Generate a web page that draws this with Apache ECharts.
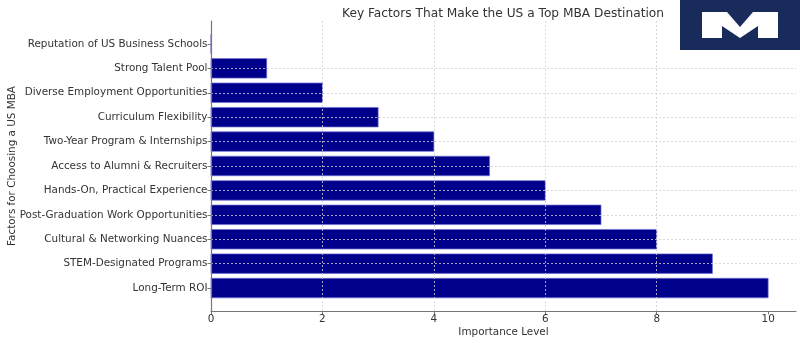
<!DOCTYPE html>
<html>
<head>
<meta charset="utf-8">
<script src="https://cdn.jsdelivr.net/npm/echarts@6/dist/echarts.min.js"></script>
<style>
  html, body { margin: 0; padding: 0; background: #fff; }
  #chart { width: 800px; height: 343px; }
</style>
</head>
<body>
<div id="chart"></div>
<script>
// Factors listed top to bottom, with their importance level
const categories = [
  'Reputation of US Business Schools',
  'Strong Talent Pool',
  'Diverse Employment Opportunities',
  'Curriculum Flexibility',
  'Two-Year Program & Internships',
  'Access to Alumni & Recruiters',
  'Hands-On, Practical Experience',
  'Post-Graduation Work Opportunities',
  'Cultural & Networking Nuances',
  'STEM-Designated Programs',
  'Long-Term ROI'
];
const importance = [0, 1, 2, 3, 4, 5, 6, 7, 8, 9, 10];
const xTicks = [0, 2, 4, 6, 8, 10];
const yTicks = categories.map((_, i) => i);

const FONT = 'DejaVu Sans';
const LABEL_SIZE = 10.4;
const BAR_HEIGHT = 0.8; // in category units

const chart = echarts.init(document.getElementById('chart'), null, { renderer: 'canvas' });

const barData = importance.map((v, i) => [v, i]);

chart.setOption({
  animation: false,
  backgroundColor: '#ffffff',
  title: {
    text: 'Key Factors That Make the US a Top MBA Destination',
    left: 498,
    top: 3,
    textAlign: 'center',
    textStyle: { fontFamily: FONT, fontSize: 12.2, fontWeight: 'normal', color: '#333' }
  },
  grid: { left: 211, right: 4, top: 21, bottom: 32, containLabel: false, outerBoundsMode: 'none' },
  xAxis: {
    type: 'value',
    min: 0,
    max: 10.5,
    z: 3,
    name: 'Importance Level',
    nameLocation: 'middle',
    nameGap: 16,
    nameMoveOverlap: false,
    nameTextStyle: { fontFamily: FONT, fontSize: LABEL_SIZE, color: '#333', verticalAlign: 'top' },
    axisLine: { show: true, onZero: false, lineStyle: { color: '#777', width: 1.2 } },
    axisTick: { show: true, length: 3.5, customValues: xTicks, lineStyle: { color: '#777' } },
    axisLabel: { customValues: xTicks, margin: 3, fontFamily: FONT, fontSize: LABEL_SIZE, color: '#333' },
    splitLine: {
      show: true, showMinLine: false, showMaxLine: false,
      lineStyle: { color: '#d0d0d0', type: [2, 2], width: 0.8 }
    }
  },
  yAxis: {
    type: 'value',
    inverse: true,
    min: -0.94,
    max: 10.94,
    z: 3,
    name: 'Factors for Choosing a US MBA',
    nameLocation: 'middle',
    nameGap: 194,
    nameMoveOverlap: false,
    nameRotate: 90,
    nameTextStyle: { fontFamily: FONT, fontSize: LABEL_SIZE, color: '#333' },
    axisLine: { show: true, onZero: false, lineStyle: { color: '#777', width: 1.2 } },
    axisTick: { show: true, length: 3.5, customValues: yTicks, lineStyle: { color: '#777' } },
    axisLabel: {
      customValues: yTicks,
      margin: 3.5,
      fontFamily: FONT, fontSize: LABEL_SIZE, color: '#333',
      formatter: (v) => categories[Math.round(v)] || ''
    },
    splitLine: {
      show: true, showMinLine: false, showMaxLine: false,
      lineStyle: { color: '#d0d0d0', type: [2, 2], width: 0.8 }
    }
  },
  series: [{
    type: 'custom',
    z: 2,
    data: barData,
    encode: { x: 0, y: 1 },
    renderItem: (params, api) => {
      const v = api.value(0);
      const idx = api.value(1);
      const start = api.coord([0, idx]);
      const end = api.coord([v, idx]);
      const h = api.size([0, BAR_HEIGHT])[1];
      return {
        type: 'rect',
        shape: { x: start[0], y: start[1] - h / 2, width: end[0] - start[0], height: h },
        style: { fill: '#00008b', stroke: 'rgba(110,110,215,0.9)', lineWidth: 0.8 }
      };
    }
  }],
  graphic: [{
    type: 'group',
    z: 100,
    children: [
      { type: 'rect', shape: { x: 680, y: 0, width: 120, height: 50 }, style: { fill: '#182b5b' } },
      {
        type: 'polygon',
        shape: {
          points: [
            [702, 12], [727, 12], [740, 27], [753, 12], [778, 12],
            [778, 38], [758, 38], [758, 26], [740, 38],
            [722, 26], [722, 38], [702, 38]
          ]
        },
        style: { fill: '#ffffff' }
      }
    ]
  }]
});
</script>
</body>
</html>
